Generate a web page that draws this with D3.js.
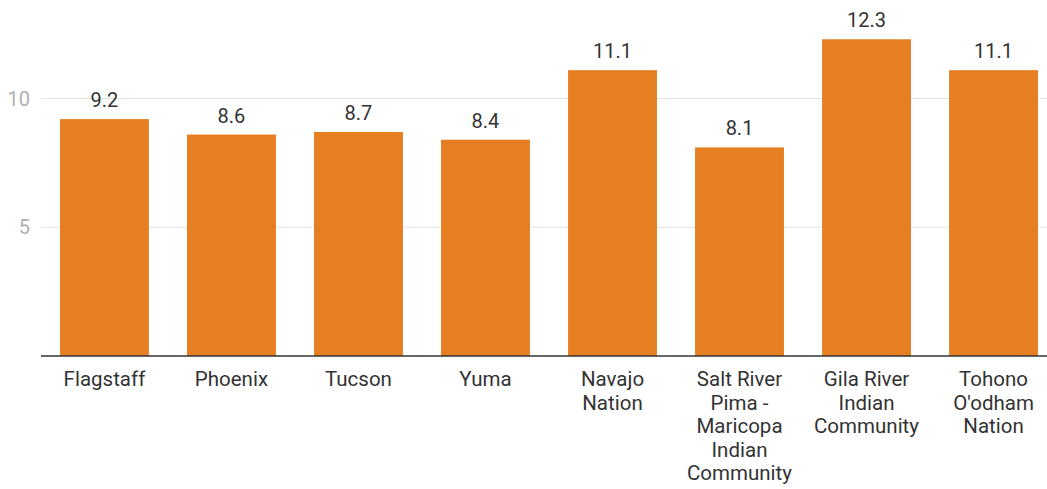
<!DOCTYPE html>
<html>
<head>
<meta charset="utf-8">
<script src="https://cdn.jsdelivr.net/npm/d3@7"></script>
<style>
  body { margin: 0; background: #fff; }
  text { font-family: Roboto, sans-serif; }
</style>
</head>
<body>
<div id="wrapper"></div>
<script>
// data
const categories = [
  ["Flagstaff"],
  ["Phoenix"],
  ["Tucson"],
  ["Yuma"],
  ["Navajo", "Nation"],
  ["Salt River", "Pima -", "Maricopa", "Indian", "Community"],
  ["Gila River", "Indian", "Community"],
  ["Tohono", "O'odham", "Nation"],
]
const values = [9.2, 8.6, 8.7, 8.4, 11.1, 8.1, 12.3, 11.1]
const yTicks = [5, 10]

const dataset = categories.map((c, i) => ({ label: c, value: values[i], key: c.join(" ") }))

function drawBars() {
  const dimensions = {
    width: 1047,
    height: 489,
    axisLeft: 41,
    barLeft: 60,
    barRight: 1038,
    baseline: 356,
    top: 98.5,
  }

  const svg = d3.select("#wrapper")
    .append("svg")
      .attr("width", dimensions.width)
      .attr("height", dimensions.height)

  const xScale = d3.scaleBand()
    .domain(dataset.map(d => d.key))
    .range([dimensions.barLeft, dimensions.barRight])
    .paddingInner(0.3)
    .paddingOuter(0)

  const yScale = d3.scaleLinear()
    .domain([0, 10])
    .range([dimensions.baseline, dimensions.top])

  // gridlines
  svg.append("g")
    .selectAll("line")
    .data(yTicks)
    .join("line")
      .attr("x1", dimensions.axisLeft)
      .attr("x2", dimensions.width)
      .attr("y1", d => yScale(d))
      .attr("y2", d => yScale(d))
      .attr("stroke", "#e3e3e3")
      .attr("stroke-width", 1)

  // y tick labels
  svg.append("g")
    .selectAll("text")
    .data(yTicks)
    .join("text")
      .attr("x", 30)
      .attr("y", d => yScale(d))
      .attr("dy", "0.35em")
      .attr("text-anchor", "end")
      .attr("fill", "#b0b0b0")
      .style("font-size", "20px")
      .text(d => d)

  // bars
  svg.append("g")
    .selectAll("rect")
    .data(dataset)
    .join("rect")
      .attr("x", d => xScale(d.key))
      .attr("width", xScale.bandwidth())
      .attr("y", d => yScale(d.value))
      .attr("height", d => yScale(0) - yScale(d.value))
      .attr("fill", "#e67e22")

  // value labels
  svg.append("g")
    .selectAll("text")
    .data(dataset)
    .join("text")
      .attr("x", d => xScale(d.key) + xScale.bandwidth() / 2)
      .attr("y", d => yScale(d.value) - 12)
      .attr("text-anchor", "middle")
      .attr("fill", "#333")
      .style("font-size", "20px")
      .text(d => d.value)

  // baseline
  svg.append("line")
    .attr("x1", dimensions.axisLeft)
    .attr("x2", dimensions.width)
    .attr("y1", dimensions.baseline)
    .attr("y2", dimensions.baseline)
    .attr("stroke", "#333")
    .attr("stroke-width", 1.5)

  // category labels
  const catLabels = svg.append("g")
    .selectAll("text")
    .data(dataset)
    .join("text")
      .attr("x", d => xScale(d.key) + xScale.bandwidth() / 2)
      .attr("y", 386)
      .attr("text-anchor", "middle")
      .attr("fill", "#333")
      .style("font-size", "20.5px")

  catLabels.selectAll("tspan")
    .data(d => d.label.map(l => ({ l, x: xScale(d.key) + xScale.bandwidth() / 2 })))
    .join("tspan")
      .attr("x", d => d.x)
      .attr("dy", (d, i) => i === 0 ? 0 : 23.5)
      .text(d => d.l)
}
drawBars()
</script>
</body>
</html>
